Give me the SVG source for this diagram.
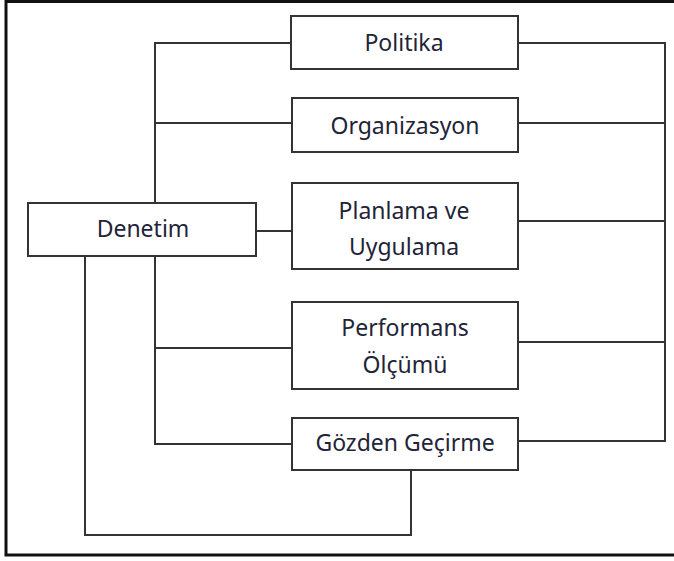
<svg xmlns="http://www.w3.org/2000/svg" width="674" height="561" viewBox="0 0 674 561">
  <style>
    .box { fill: #ffffff; stroke: #333333; stroke-width: 2; }
    .conn { fill: none; stroke: #333333; stroke-width: 2; }
    .lbl { font-family: "Noto Sans", "Open Sans", sans-serif; font-size: 23px; fill: #1f2438; text-anchor: middle; }
  </style>
  <rect x="0" y="0" width="674" height="561" fill="#ffffff"/>
  <rect id="frame" x="6" y="1.5" width="680" height="553.5" fill="none" stroke="#111111" stroke-width="3"/>
  <g id="connectors">
    <polyline class="conn" points="291,43 155,43 155,203"/>
    <line class="conn" x1="155" y1="123" x2="292" y2="123"/>
    <line class="conn" x1="256" y1="231" x2="292" y2="231"/>
    <polyline class="conn" points="155,256 155,444 292,444"/>
    <line class="conn" x1="155" y1="348" x2="292" y2="348"/>
    <polyline class="conn" points="85,256 85,535 411,535 411,470"/>
    <polyline class="conn" points="518,43 665,43 665,441 518,441"/>
    <line class="conn" x1="518" y1="123" x2="665" y2="123"/>
    <line class="conn" x1="518" y1="221" x2="665" y2="221"/>
    <line class="conn" x1="518" y1="342" x2="665" y2="342"/>
  </g>
  <g id="politika">
    <rect class="box" x="291" y="16" width="227" height="53"/>
    <text class="lbl" x="404" y="51">Politika</text>
  </g>
  <g id="organizasyon">
    <rect class="box" x="292" y="98" width="226" height="54"/>
    <text class="lbl" x="405" y="134">Organizasyon</text>
  </g>
  <g id="planlama">
    <rect class="box" x="292" y="183" width="226" height="86"/>
    <text class="lbl" x="404" y="219">Planlama ve</text>
    <text class="lbl" x="404" y="255">Uygulama</text>
  </g>
  <g id="performans">
    <rect class="box" x="292" y="302" width="226" height="87"/>
    <text class="lbl" x="405" y="336">Performans</text>
    <text class="lbl" x="405" y="373">Ölçümü</text>
  </g>
  <g id="gozden">
    <rect class="box" x="292" y="418" width="226" height="52"/>
    <text class="lbl" x="405" y="451">Gözden Geçirme</text>
  </g>
  <g id="denetim">
    <rect class="box" x="28" y="203" width="228" height="53"/>
    <text class="lbl" x="143" y="237">Denetim</text>
  </g>
</svg>
